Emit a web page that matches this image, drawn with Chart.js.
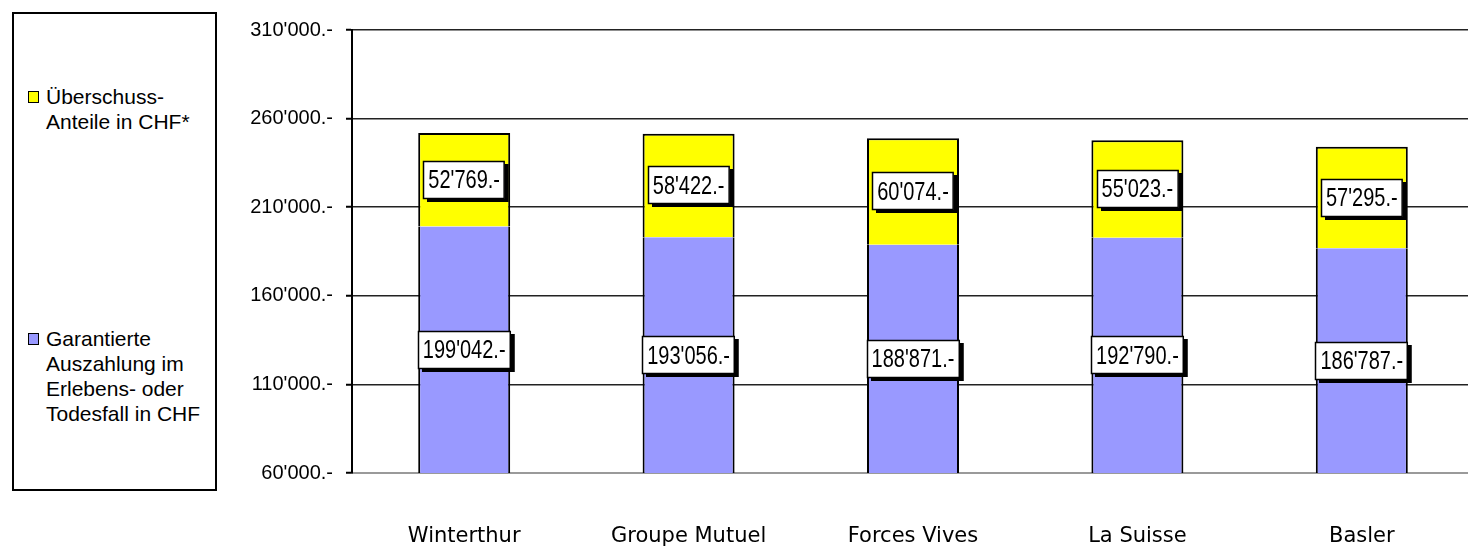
<!DOCTYPE html>
<html>
<head>
<meta charset="utf-8">
<script src="https://cdn.jsdelivr.net/npm/chart.js@4/dist/chart.umd.min.js"></script>
<style>
  html, body { margin: 0; padding: 0; background: #fff; overflow: hidden; }
  #wrap { position: absolute; left: 0; top: 0; width: 1474px; height: 547px; }
  #legend { position: absolute; left: 12px; top: 12px; width: 201px; height: 475px;
            border: 2px solid #000; background: #fff; box-sizing: content-box;
            font-family: "Liberation Sans", Arial, sans-serif; font-size: 21px; color: #000; }
  .item { position: absolute; left: 0; width: 200px; }
  .sw { position: absolute; left: 14px; width: 9px; height: 10px; border: 1px solid #000; }
  .txt { position: absolute; left: 32px; white-space: pre; line-height: 25px; }
</style>
</head>
<body>
<div id="wrap">
  <canvas id="c" width="1474" height="547"></canvas>
  <div id="legend"></div>
</div>
<script>
// ---- data ----
const categories = ["Winterthur", "Groupe Mutuel", "Forces Vives", "La Suisse", "Basler"];
const garantiert = [199042, 193056, 188871, 192790, 186787];
const ueberschuss = [52769, 58422, 60074, 55023, 57295];
const yTicks = [60000, 110000, 160000, 210000, 260000, 310000];
const seriesNames = ["Garantierte\nAuszahlung im\nErlebens- oder\nTodesfall in CHF", "Überschuss-\nAnteile in CHF*"];
const seriesColors = ["#9999FF", "#FFFF00"];

function fmt(v) {
  return String(Math.round(v)).replace(/\B(?=(\d{3})+(?!\d))/g, "'") + ".-";
}

// ---- legend (HTML) ----
const legendTops = [[1, 70], [0, 312]]; // [series index, top]
const legend = document.getElementById('legend');
legendTops.forEach(([i, top]) => {
  const it = document.createElement('div');
  it.className = 'item';
  it.style.top = top + 'px';
  const sw = document.createElement('div');
  sw.className = 'sw';
  sw.style.background = seriesColors[i];
  sw.style.top = '7px';
  const tx = document.createElement('div');
  tx.className = 'txt';
  tx.textContent = seriesNames[i];
  it.appendChild(sw); it.appendChild(tx);
  legend.appendChild(it);
});

// ---- value label plugin ----
const boxLabels = {
  id: 'boxLabels',
  afterDatasetsDraw(chart) {
    const ctx = chart.ctx;
    const area = chart.chartArea;
    ctx.save();
    ctx.font = '20px "Liberation Sans", Arial, sans-serif';
    chart.data.datasets.forEach((ds, di) => {
      const meta = chart.getDatasetMeta(di);
      meta.data.forEach((bar, i) => {
        const text = fmt(ds.data[i]);
        const cx = bar.x;
        const top = Math.max(bar.y, area.top);
        const bottom = Math.min(bar.base, area.bottom);
        const cy = (top + bottom) / 2;
        const w = ctx.measureText(text).width + 10;
        const h = 38;
        const x0 = Math.round(cx - w / 2), y0 = Math.round(cy - h / 2);
        ctx.fillStyle = '#000';
        ctx.fillRect(x0 + 4, y0 + 3, w, h);
        ctx.fillStyle = '#fff';
        ctx.fillRect(x0, y0, w, h);
        ctx.lineWidth = 1.5;
        ctx.strokeStyle = '#000';
        ctx.strokeRect(x0 + 0.5, y0 + 0.5, w - 1, h - 1);
        ctx.save();
        ctx.translate(cx, cy);
        ctx.scale(1, 1.3);
        ctx.fillStyle = '#000';
        ctx.textAlign = 'center';
        ctx.textBaseline = 'middle';
        ctx.fillText(text, 0, 1);
        ctx.restore();
      });
    });
    ctx.restore();
  }
};

new Chart(document.getElementById('c'), {
  type: 'bar',
  data: {
    labels: categories,
    datasets: [
      { label: seriesNames[0], data: garantiert, backgroundColor: seriesColors[0],
        borderColor: '#000', borderWidth: 2, borderSkipped: 'top' },
      { label: seriesNames[1], data: ueberschuss, backgroundColor: seriesColors[1],
        borderColor: '#000', borderWidth: 2, borderSkipped: 'bottom' }
    ]
  },
  options: {
    responsive: false,
    animation: false,
    devicePixelRatio: 1,
    layout: { padding: { left: 0, right: 0, top: 30, bottom: 0 } },
    datasets: { bar: { barPercentage: 0.41, categoryPercentage: 1.0 } },
    plugins: { legend: { display: false }, tooltip: { enabled: false } },
    scales: {
      x: {
        stacked: true,
        grid: { display: false, drawTicks: false },
        border: { display: true, color: '#9a9a9a', width: 2 },
        ticks: { color: '#000', padding: 51, maxRotation: 0,
                 font: { family: '"DejaVu Sans", sans-serif', size: 21 } },
        afterFit(s) { s.height = 74; }
      },
      y: {
        stacked: true,
        min: 60000, max: 310000,
        afterBuildTicks(s) { s.ticks = yTicks.map(v => ({ value: v })); },
        grid: { color: ctx => (ctx.tick && ctx.tick.value === 60000) ? 'rgba(0,0,0,0)' : '#222',
                lineWidth: 1.5, tickLength: 6, tickColor: '#000', tickWidth: 2 },
        border: { display: true, color: '#000', width: 2 },
        ticks: { color: '#000', padding: 13, callback: v => fmt(v),
                 font: { family: '"Liberation Sans", Arial, sans-serif', size: 20 } },
        afterFit(s) { s.width = 352; }
      }
    }
  },
  plugins: [boxLabels]
});
</script>
</body>
</html>
